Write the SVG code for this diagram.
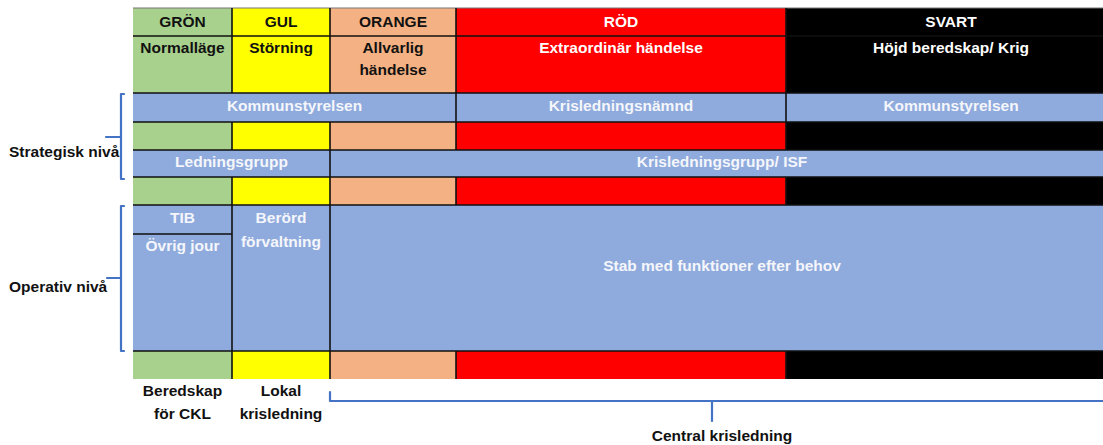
<svg xmlns="http://www.w3.org/2000/svg" width="1103" height="445" viewBox="0 0 1103 445">
<style>
text{font-family:"Liberation Sans",Arial,sans-serif;font-weight:bold;font-size:15.5px;text-anchor:middle}
.dk{fill:#111}
.wh{fill:#fff}
.lt{fill:#f4f6fb}
.g{fill:#a9d18e}.y{fill:#ffff00}.o{fill:#f4b183}.r{fill:#ff0000}.k{fill:#000}.b{fill:#8faadc}
.ln{stroke:#111;stroke-width:1.6;fill:none}
.br{stroke:#4472c4;stroke-width:2.2;fill:none;stroke-linejoin:round;stroke-linecap:round}
.st{text-anchor:start}
</style>
<rect width="1103" height="445" fill="#fff"/>
<g id="header">
<rect class="g" x="133" y="8" width="99" height="85"/>
<rect class="y" x="232" y="8" width="98" height="85"/>
<rect class="o" x="330" y="8" width="126" height="85"/>
<rect class="r" x="456" y="8" width="330" height="85"/>
<rect class="k" x="786" y="8" width="317" height="85"/>
<text class="dk" x="182.5" y="27">GRÖN</text>
<text class="dk" x="281" y="27">GUL</text>
<text class="dk" x="393" y="27">ORANGE</text>
<text class="wh" x="621" y="27">RÖD</text>
<text class="wh" x="951" y="27">SVART</text>
<text class="dk" x="182.5" y="53">Normalläge</text>
<text class="dk" x="281" y="53">Störning</text>
<text class="dk" x="393" y="53">Allvarlig</text>
<text class="dk" x="393" y="75">händelse</text>
<text class="wh" x="621" y="53">Extraordinär händelse</text>
<text class="wh" x="951" y="53">Höjd beredskap/ Krig</text>
</g>
<g id="row-politisk">
<rect class="b" x="133" y="93" width="970" height="29"/>
<text class="lt" x="294.5" y="111">Kommunstyrelsen</text>
<text class="lt" x="621" y="111">Krisledningsnämnd</text>
<text class="lt" x="951" y="111">Kommunstyrelsen</text>
</g>
<g id="band-1">
<rect class="g" x="133" y="122" width="99" height="28"/>
<rect class="y" x="232" y="122" width="98" height="28"/>
<rect class="o" x="330" y="122" width="126" height="28"/>
<rect class="r" x="456" y="122" width="330" height="28"/>
<rect class="k" x="786" y="122" width="317" height="28"/>
</g>
<g id="row-ledning">
<rect class="b" x="133" y="150" width="970" height="27"/>
<text class="lt" x="231.5" y="167">Ledningsgrupp</text>
<text class="lt" x="722" y="167">Krisledningsgrupp/ ISF</text>
</g>
<g id="band-2">
<rect class="g" x="133" y="177" width="99" height="28"/>
<rect class="y" x="232" y="177" width="98" height="28"/>
<rect class="o" x="330" y="177" width="126" height="28"/>
<rect class="r" x="456" y="177" width="330" height="28"/>
<rect class="k" x="786" y="177" width="317" height="28"/>
</g>
<g id="row-operativ">
<rect class="b" x="133" y="205" width="970" height="146"/>
<text class="lt" x="182.5" y="223">TIB</text>
<text class="lt" x="182.5" y="251">Övrig jour</text>
<text class="lt" x="281" y="223">Berörd</text>
<text class="lt" x="281" y="247">förvaltning</text>
<text class="lt" x="722" y="271">Stab med funktioner efter behov</text>
</g>
<g id="band-3">
<rect class="g" x="133" y="351" width="99" height="28"/>
<rect class="y" x="232" y="351" width="98" height="28"/>
<rect class="o" x="330" y="351" width="126" height="28"/>
<rect class="r" x="456" y="351" width="330" height="28"/>
<rect class="k" x="786" y="351" width="317" height="28"/>
</g>
<g id="grid">
<line x1="133" y1="8" x2="1103" y2="8" stroke="#777" stroke-width="1.2"/>
<path class="ln" d="M133,36H1103M133,93H1103M133,122H1103M133,150H1103M133,177H1103M133,205H1103M133,351H1103M133,234H232"/>
<path class="ln" d="M232,8V93M330,8V93M456,8V93M786,8V93"/>
<path class="ln" d="M456,93V122M786,93V122"/>
<path class="ln" d="M232,122V150M330,122V150M456,122V150M786,122V150"/>
<path class="ln" d="M330,150V177"/>
<path class="ln" d="M232,177V205M330,177V205M456,177V205M786,177V205"/>
<path class="ln" d="M232,205V351M330,205V351"/>
<path class="ln" d="M232,351V379M330,351V379M456,351V379M786,351V379"/>
</g>
<g id="labels">
<text class="dk st" x="9" y="157">Strategisk nivå</text>
<text class="dk st" x="9" y="292">Operativ nivå</text>
<text class="dk" x="182.5" y="396">Beredskap</text>
<text class="dk" x="182.5" y="419">för CKL</text>
<text class="dk" x="281" y="396">Lokal</text>
<text class="dk" x="281" y="419">krisledning</text>
<text class="dk" x="722" y="441">Central krisledning</text>
</g>
<g id="connectors">
<path class="br" d="M124,94H121V179H124M121,137H106"/>
<path class="br" d="M124,206H121V351H124M121,278H107"/>
<path class="br" d="M330,392V401H1103M712,401V421"/>
</g>
</svg>
